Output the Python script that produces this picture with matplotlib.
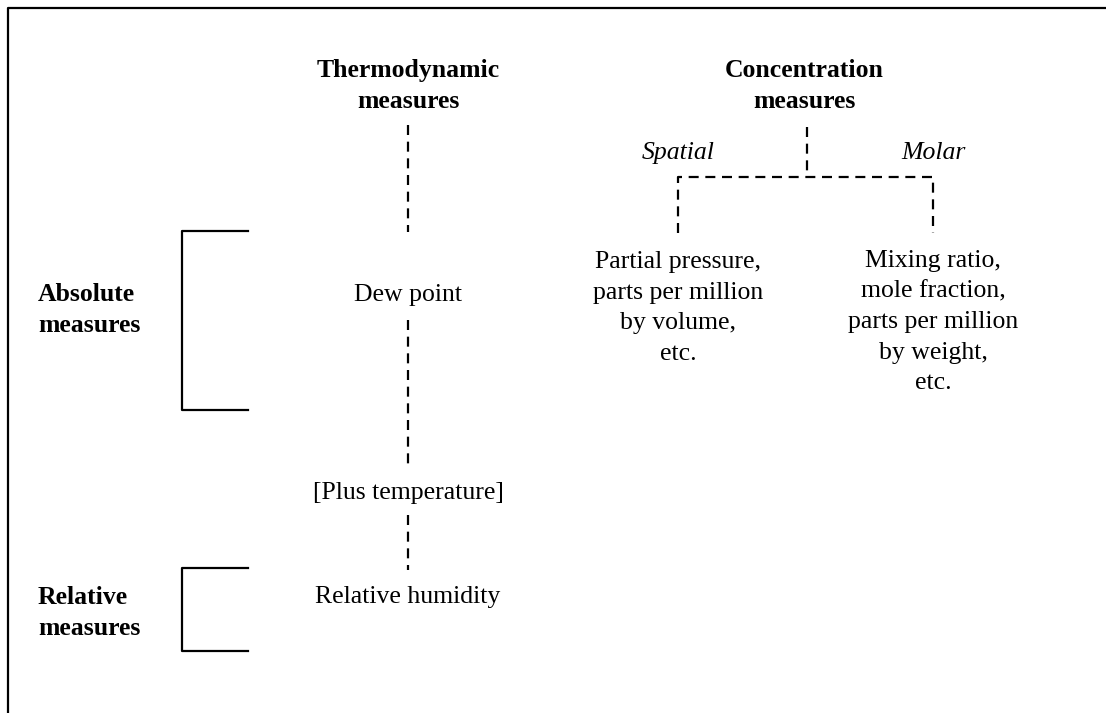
import matplotlib
matplotlib.use("Agg")
import matplotlib.pyplot as plt

# Texts of the diagram
HEAD_LEFT = "Thermodynamic\nmeasures"
HEAD_RIGHT = "Concentration\nmeasures"
THERMO_ITEMS = ["Dew point", "[Plus temperature]", "Relative humidity"]
ROW_LABELS = ["Absolute\nmeasures", "Relative\nmeasures"]
BRANCH_LABELS = ["Spatial", "Molar"]
BRANCH_ITEMS = ["Partial pressure,\nparts per million\nby volume,\netc.",
                "Mixing ratio,\nmole fraction,\nparts per million\nby weight,\netc."]

# Layout (pixel coords, y down)
W, H = 1106, 713
X_THERMO = 408
Y_HEAD = 86
THERMO_Y = [295, 493, 597]
X_BRANCH = [678, 933]
X_CONC = 807
FONT = "Liberation Serif"
FS = 18.5
LS = 1.4
LW = 1.6
DASH = (0, (4.5, 3))

fig = plt.figure(figsize=(W / 100, H / 100), dpi=100)
ax = fig.add_axes([0, 0, 1, 1])
ax.set_xlim(0, W)
ax.set_ylim(H, 0)
ax.axis("off")

# frame: top and left only
ax.plot([8, 8, W], [H, 8, 8], color="black", lw=LW, solid_capstyle="butt")

# headers
ax.text(X_THERMO, Y_HEAD, HEAD_LEFT, ha="center", va="center", fontsize=FS,
        fontweight="bold", family=FONT, linespacing=LS)
ax.text(X_CONC - 3, Y_HEAD, HEAD_RIGHT, ha="center", va="center", fontsize=FS,
        fontweight="bold", family=FONT, linespacing=LS)

# thermodynamic column
for label, y in zip(THERMO_ITEMS, THERMO_Y):
    ax.text(X_THERMO, y, label, ha="center", va="center", fontsize=FS, family=FONT)
for y0, y1 in [(125, 232), (320, 466), (515, 570)]:
    ax.plot([X_THERMO, X_THERMO], [y0, y1], color="black", lw=LW, linestyle=DASH)

# row brackets
for label, (y0, y1), yc in zip(ROW_LABELS, [(231, 410), (568, 651)], [310, 613]):
    ax.plot([248, 182, 182, 248], [y0, y0, y1, y1], color="black", lw=LW)
    ax.text(38, yc, label, ha="left", va="center", fontsize=FS,
            fontweight="bold", family=FONT, linespacing=LS)

# concentration tree
ax.plot([X_CONC, X_CONC], [127, 177], color="black", lw=LW, linestyle=DASH)
ax.plot([X_BRANCH[0], X_BRANCH[0], X_BRANCH[1], X_BRANCH[1]], [233, 177, 177, 233],
        color="black", lw=LW, linestyle=DASH)
for label, x in zip(BRANCH_LABELS, X_BRANCH):
    ax.text(x, 153, label, ha="center", va="center", fontsize=FS, style="italic", family=FONT)
for label, x, yc in zip(BRANCH_ITEMS, X_BRANCH, [308, 322]):
    ax.text(x, yc, label, ha="center", va="center", fontsize=FS, family=FONT, linespacing=1.5)

fig.savefig("out.png", dpi=100, facecolor="white")
